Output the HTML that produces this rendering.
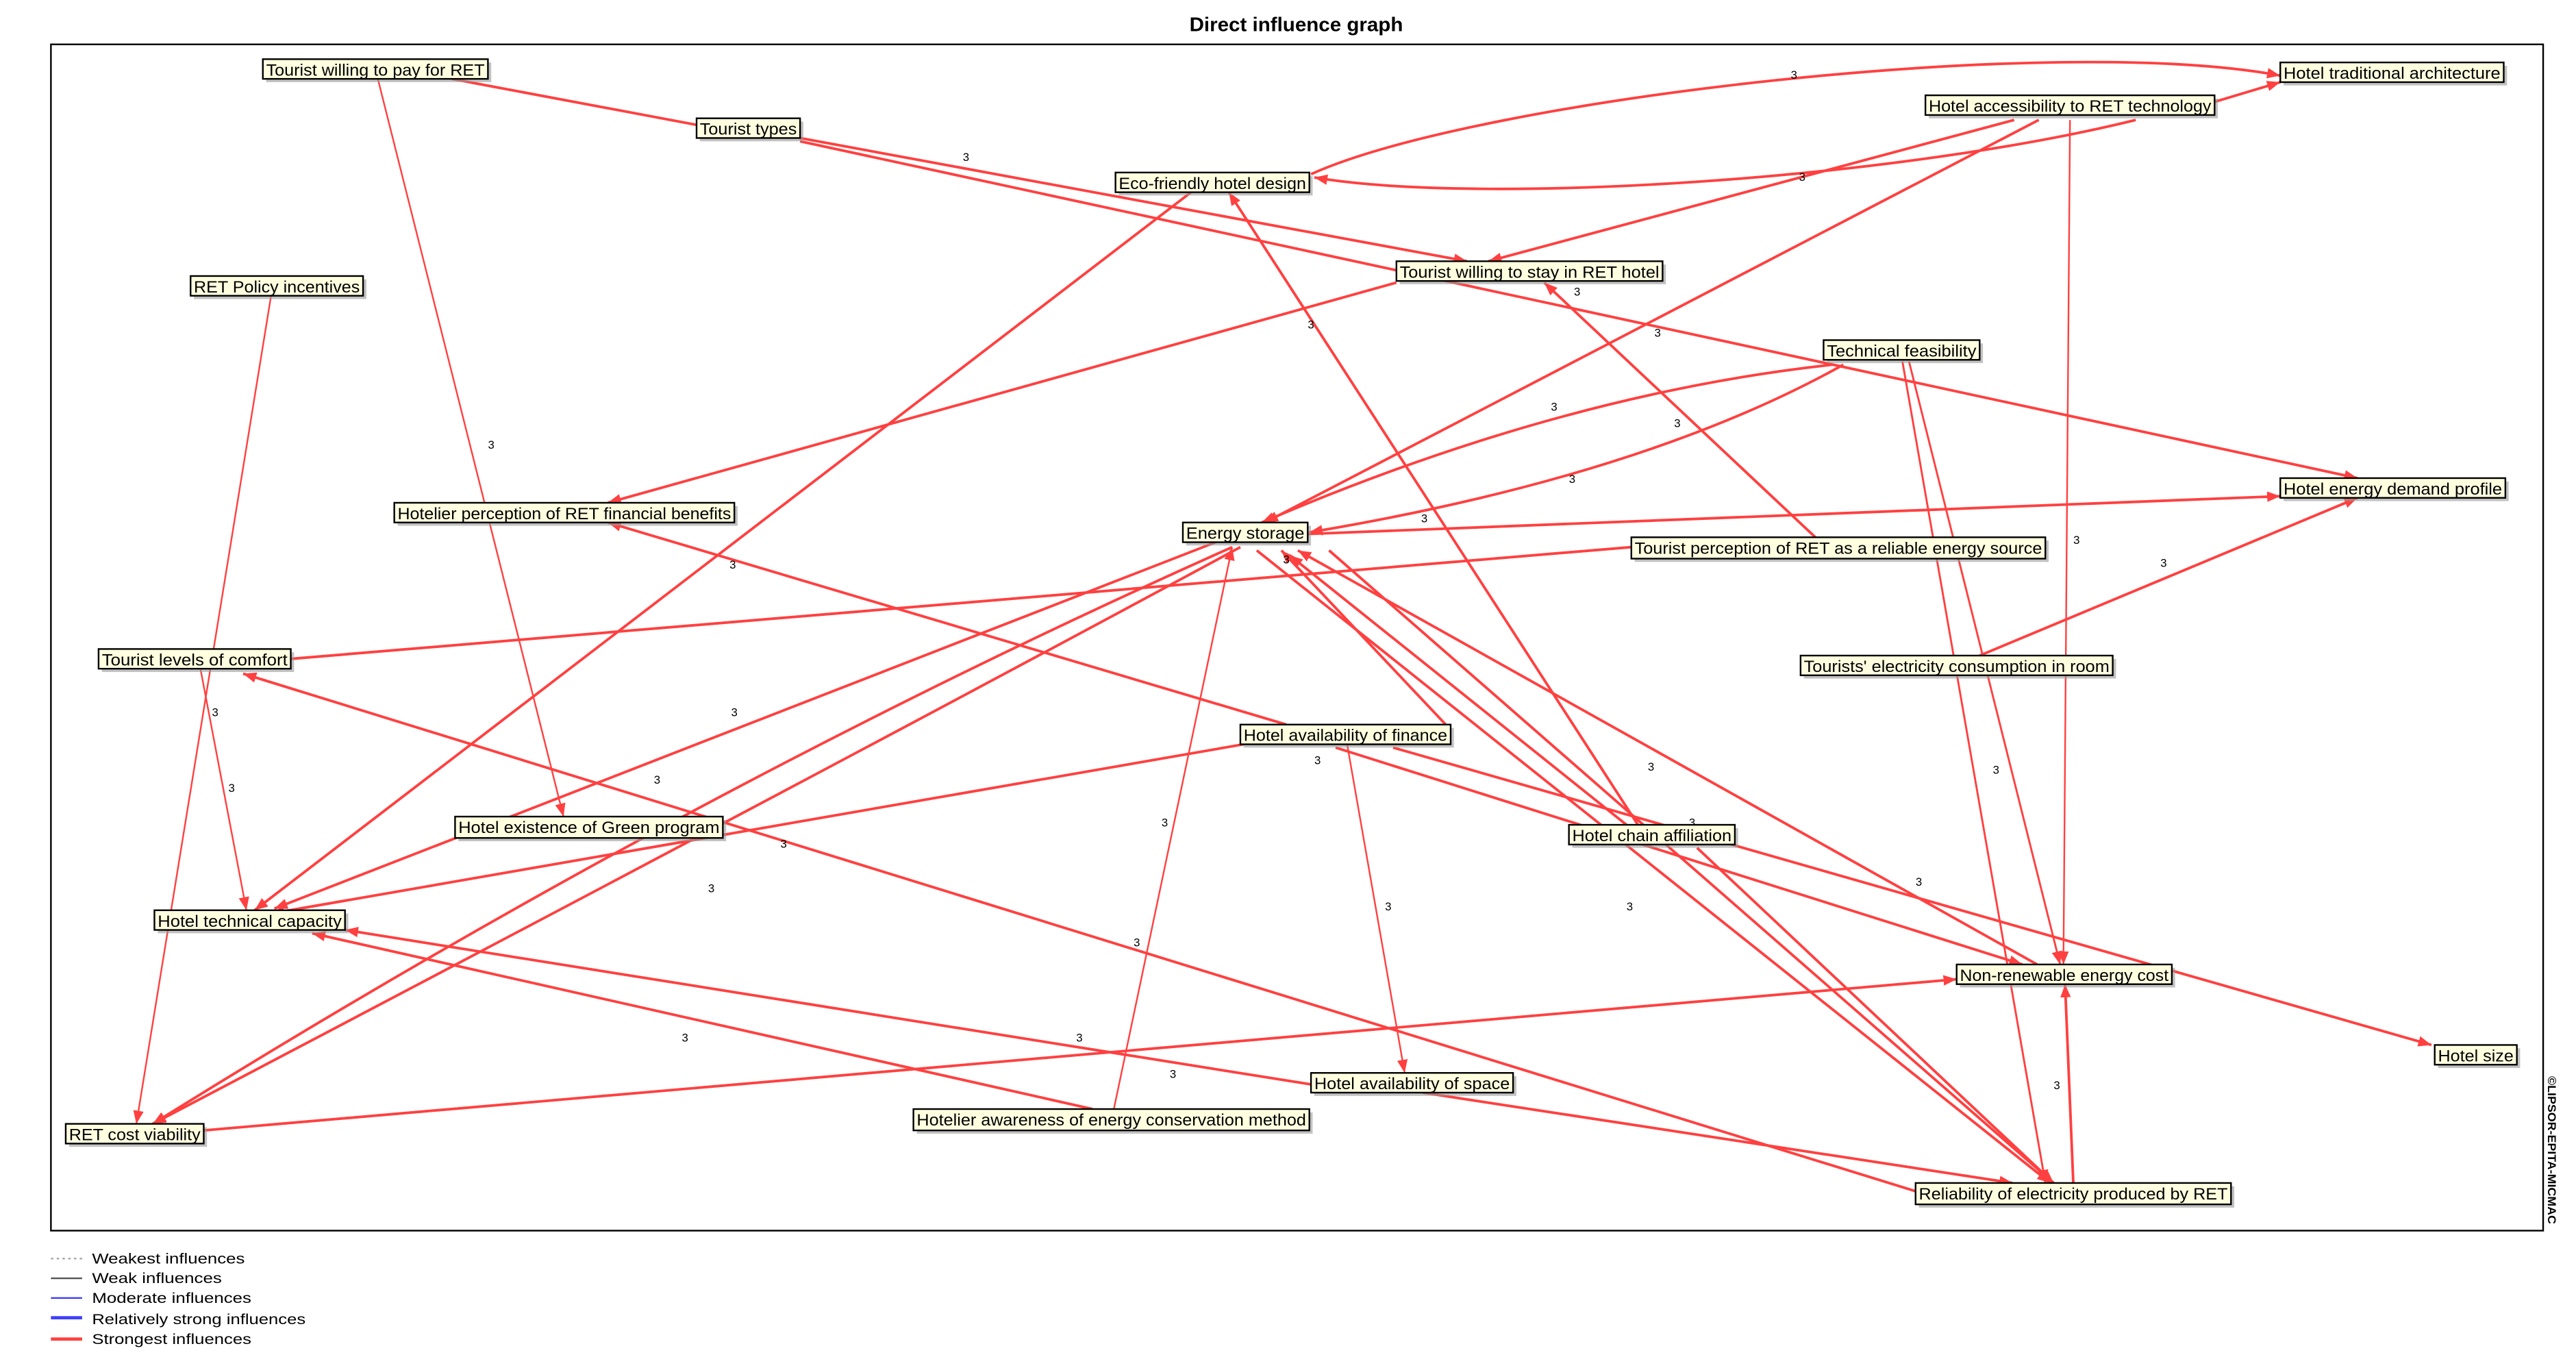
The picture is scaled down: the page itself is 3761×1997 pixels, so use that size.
<!DOCTYPE html>
<html><head><meta charset="utf-8"><style>
html,body{margin:0;padding:0;background:#fff;}
svg{display:block;}
text{font-family:"Liberation Sans Narrow","Liberation Sans",sans-serif;}
</style></head><body>
<svg width="3761" height="1997" viewBox="0 0 1568 832.6" preserveAspectRatio="none" xmlns="http://www.w3.org/2000/svg">
<defs>
<marker id="a" markerUnits="userSpaceOnUse" markerWidth="8" markerHeight="8" viewBox="0 0 10 10" refX="10" refY="5" orient="auto">
<path d="M0,1 L10,5 L0,9 Z" fill="#ff4040"/></marker>
</defs>
<rect width="1568" height="833" fill="#fff"/>
<text x="789" y="19" font-size="12" font-weight="bold" text-anchor="middle" textLength="130" lengthAdjust="spacingAndGlyphs">Direct influence graph</text>
<rect x="31" y="27" width="1517" height="722" fill="none" stroke="#000" stroke-width="1"/>

<g fill="none" stroke="#ff4040" stroke-width="1.6" marker-end="url(#a)">
<path d="M798,106 C900,60 1250,20 1388,46"/>
<path d="M1300,73 C1150,110 900,125 800,108"/>
<path d="M1348,62 L1388,50"/>
<path d="M275,48 L424,76" marker-end="none"/>
<path d="M487,84 L893,159"/>
<path d="M487,86 L1435,291"/>
<path d="M1226,73 L906,159"/>
<path d="M1241,73 L770,318"/>
<path d="M1260,73 L1256,587" stroke-width="1"/>
<path d="M725,117 L155,554"/>
<path d="M997,502 L748,117"/>
<path d="M850,172 L370,306"/>
<path d="M1105,327 L940,172"/>
<path d="M1115,222 Q950,240 768,318"/>
<path d="M1122,222 Q1000,290 797,324"/>
<path d="M1162,220 L1254,587" stroke-width="1.2"/>
<path d="M1158,220 L1245,720" stroke-width="1.2"/>
<path d="M1262,720 L1257,599"/>
<path d="M1205,399 L1435,303"/>
<path d="M796,325 L1388,302"/>
<path d="M177,401 L993,333" marker-end="none"/>
<path d="M230,48 L343,497" stroke-width="1"/>
<path d="M165,180 L83,684" stroke-width="1"/>
<path d="M122,407 L150,554" stroke-width="1"/>
<path d="M1166,725 L148,410"/>
<path d="M783,441 L370,318"/>
<path d="M757,453 L165,556"/>
<path d="M820,453 L855,653" stroke-width="1"/>
<path d="M813,455 L1231,587"/>
<path d="M848,455 L1480,636"/>
<path d="M740,330 L167,553"/>
<path d="M750,333 Q420,480 93,684"/>
<path d="M755,333 Q520,460 93,684"/>
<path d="M678,675 L750,333" stroke-width="1"/>
<path d="M880,441 L780,335"/>
<path d="M990,502 L785,338"/>
<path d="M1240,587 L790,335"/>
<path d="M765,335 L1248,720"/>
<path d="M809,335 L1250,720"/>
<path d="M1033,516 L1250,720"/>
<path d="M866,665 L1225,720"/>
<path d="M798,660 L210,566"/>
<path d="M665,675 L190,568"/>
<path d="M124,688 L1191,596"/>
</g>

<g font-size="7" text-anchor="middle">
<text x="1092" y="48">3</text><text x="1097" y="110">3</text><text x="588" y="98">3</text>
<text x="299" y="273">3</text><text x="960" y="180">3</text><text x="798" y="200">3</text>
<text x="1009" y="205">3</text><text x="946" y="250">3</text><text x="1021" y="260">3</text>
<text x="957" y="294">3</text><text x="867" y="318">3</text><text x="1264" y="331">3</text>
<text x="1317" y="345">3</text><text x="446" y="346">3</text><text x="783" y="343">3</text>
<text x="131" y="436">3</text><text x="141" y="482">3</text><text x="447" y="436">3</text>
<text x="400" y="477">3</text><text x="802" y="465">3</text><text x="1005" y="469">3</text>
<text x="1215" y="471">3</text><text x="477" y="516">3</text><text x="1030" y="503">3</text>
<text x="709" y="503">3</text><text x="433" y="543">3</text><text x="845" y="554">3</text>
<text x="992" y="554">3</text><text x="1168" y="539">3</text><text x="692" y="576">3</text>
<text x="417" y="634">3</text><text x="657" y="634">3</text><text x="714" y="656">3</text>
<text x="1252" y="663">3</text>
</g>

<g font-size="10" stroke-width="1">
<g><rect x="162" y="38" width="137" height="12" fill="#999" opacity=".6"/><rect x="160" y="36" width="137" height="12" fill="#ffffe0" stroke="#000"/><text x="162" y="46" textLength="133" lengthAdjust="spacingAndGlyphs">Tourist willing to pay for RET</text></g>
<g><rect x="426" y="74" width="63" height="12" fill="#999" opacity=".6"/><rect x="424" y="72" width="63" height="12" fill="#ffffe0" stroke="#000"/><text x="426" y="82" textLength="59" lengthAdjust="spacingAndGlyphs">Tourist types</text></g>
<g><rect x="681" y="107" width="118" height="12" fill="#999" opacity=".6"/><rect x="679" y="105" width="118" height="12" fill="#ffffe0" stroke="#000"/><text x="681" y="115" textLength="114" lengthAdjust="spacingAndGlyphs">Eco-friendly hotel design</text></g>
<g><rect x="1390" y="40" width="136" height="12" fill="#999" opacity=".6"/><rect x="1388" y="38" width="136" height="12" fill="#ffffe0" stroke="#000"/><text x="1390" y="48" textLength="132" lengthAdjust="spacingAndGlyphs">Hotel traditional architecture</text></g>
<g><rect x="1174" y="60" width="176" height="12" fill="#999" opacity=".6"/><rect x="1172" y="58" width="176" height="12" fill="#ffffe0" stroke="#000"/><text x="1174" y="68" textLength="172" lengthAdjust="spacingAndGlyphs">Hotel accessibility to RET technology</text></g>
<g><rect x="852" y="161" width="162" height="12" fill="#999" opacity=".6"/><rect x="850" y="159" width="162" height="12" fill="#ffffe0" stroke="#000"/><text x="852" y="169" textLength="158" lengthAdjust="spacingAndGlyphs">Tourist willing to stay in RET hotel</text></g>
<g><rect x="118" y="170" width="105" height="12" fill="#999" opacity=".6"/><rect x="116" y="168" width="105" height="12" fill="#ffffe0" stroke="#000"/><text x="118" y="178" textLength="101" lengthAdjust="spacingAndGlyphs">RET Policy incentives</text></g>
<g><rect x="1112" y="209" width="95" height="12" fill="#999" opacity=".6"/><rect x="1110" y="207" width="95" height="12" fill="#ffffe0" stroke="#000"/><text x="1112" y="217" textLength="91" lengthAdjust="spacingAndGlyphs">Technical feasibility</text></g>
<g><rect x="242" y="308" width="207" height="12" fill="#999" opacity=".6"/><rect x="240" y="306" width="207" height="12" fill="#ffffe0" stroke="#000"/><text x="242" y="316" textLength="203" lengthAdjust="spacingAndGlyphs">Hotelier perception of RET financial benefits</text></g>
<g><rect x="722" y="320" width="76" height="12" fill="#999" opacity=".6"/><rect x="720" y="318" width="76" height="12" fill="#ffffe0" stroke="#000"/><text x="722" y="328" textLength="72" lengthAdjust="spacingAndGlyphs">Energy storage</text></g>
<g><rect x="1390" y="293" width="137" height="12" fill="#999" opacity=".6"/><rect x="1388" y="291" width="137" height="12" fill="#ffffe0" stroke="#000"/><text x="1390" y="301" textLength="133" lengthAdjust="spacingAndGlyphs">Hotel energy demand profile</text></g>
<g><rect x="995" y="329" width="252" height="13" fill="#999" opacity=".6"/><rect x="993" y="327" width="252" height="13" fill="#ffffe0" stroke="#000"/><text x="995" y="337" textLength="248" lengthAdjust="spacingAndGlyphs">Tourist perception of RET as a reliable energy source</text></g>
<g><rect x="62" y="397" width="117" height="12" fill="#999" opacity=".6"/><rect x="60" y="395" width="117" height="12" fill="#ffffe0" stroke="#000"/><text x="62" y="405" textLength="113" lengthAdjust="spacingAndGlyphs">Tourist levels of comfort</text></g>
<g><rect x="1098" y="401" width="190" height="12" fill="#999" opacity=".6"/><rect x="1096" y="399" width="190" height="12" fill="#ffffe0" stroke="#000"/><text x="1098" y="409" textLength="186" lengthAdjust="spacingAndGlyphs">Tourists' electricity consumption in room</text></g>
<g><rect x="757" y="443" width="128" height="12" fill="#999" opacity=".6"/><rect x="755" y="441" width="128" height="12" fill="#ffffe0" stroke="#000"/><text x="757" y="451" textLength="124" lengthAdjust="spacingAndGlyphs">Hotel availability of finance</text></g>
<g><rect x="279" y="499" width="163" height="13" fill="#999" opacity=".6"/><rect x="277" y="497" width="163" height="13" fill="#ffffe0" stroke="#000"/><text x="279" y="507" textLength="159" lengthAdjust="spacingAndGlyphs">Hotel existence of Green program</text></g>
<g><rect x="957" y="504" width="101" height="12" fill="#999" opacity=".6"/><rect x="955" y="502" width="101" height="12" fill="#ffffe0" stroke="#000"/><text x="957" y="512" textLength="97" lengthAdjust="spacingAndGlyphs">Hotel chain affiliation</text></g>
<g><rect x="96" y="556" width="116" height="12" fill="#999" opacity=".6"/><rect x="94" y="554" width="116" height="12" fill="#ffffe0" stroke="#000"/><text x="96" y="564" textLength="112" lengthAdjust="spacingAndGlyphs">Hotel technical capacity</text></g>
<g><rect x="1193" y="589" width="131" height="12" fill="#999" opacity=".6"/><rect x="1191" y="587" width="131" height="12" fill="#ffffe0" stroke="#000"/><text x="1193" y="597" textLength="127" lengthAdjust="spacingAndGlyphs">Non-renewable energy cost</text></g>
<g><rect x="1484" y="638" width="50" height="12" fill="#999" opacity=".6"/><rect x="1482" y="636" width="50" height="12" fill="#ffffe0" stroke="#000"/><text x="1484" y="646" textLength="46" lengthAdjust="spacingAndGlyphs">Hotel size</text></g>
<g><rect x="800" y="655" width="123" height="12" fill="#999" opacity=".6"/><rect x="798" y="653" width="123" height="12" fill="#ffffe0" stroke="#000"/><text x="800" y="663" textLength="119" lengthAdjust="spacingAndGlyphs">Hotel availability of space</text></g>
<g><rect x="558" y="677" width="241" height="13" fill="#999" opacity=".6"/><rect x="556" y="675" width="241" height="13" fill="#ffffe0" stroke="#000"/><text x="558" y="685" textLength="237" lengthAdjust="spacingAndGlyphs">Hotelier awareness of energy conservation method</text></g>
<g><rect x="42" y="686" width="84" height="12" fill="#999" opacity=".6"/><rect x="40" y="684" width="84" height="12" fill="#ffffe0" stroke="#000"/><text x="42" y="694" textLength="80" lengthAdjust="spacingAndGlyphs">RET cost viability</text></g>
<g><rect x="1168" y="722" width="192" height="13" fill="#999" opacity=".6"/><rect x="1166" y="720" width="192" height="13" fill="#ffffe0" stroke="#000"/><text x="1168" y="730" textLength="188" lengthAdjust="spacingAndGlyphs">Reliability of electricity produced by RET</text></g>
</g>

<text transform="translate(1551,655) rotate(90)" font-size="7" font-weight="bold" textLength="90" lengthAdjust="spacingAndGlyphs">©LIPSOR-EPITA-MICMAC</text>

<g font-size="9">
<line x1="31" y1="766" x2="50" y2="766" stroke="#aaa" stroke-dasharray="1.5,2"/>
<line x1="31" y1="778" x2="50" y2="778" stroke="#555" stroke-width="1"/>
<line x1="31" y1="790" x2="50" y2="790" stroke="#4040ff" stroke-width="1"/>
<line x1="31" y1="802" x2="50" y2="802" stroke="#4040ff" stroke-width="2"/>
<line x1="31" y1="815" x2="50" y2="815" stroke="#ff4040" stroke-width="2"/>
<text x="56" y="769" textLength="93" lengthAdjust="spacingAndGlyphs">Weakest influences</text>
<text x="56" y="781" textLength="79" lengthAdjust="spacingAndGlyphs">Weak influences</text>
<text x="56" y="793" textLength="97" lengthAdjust="spacingAndGlyphs">Moderate influences</text>
<text x="56" y="806" textLength="130" lengthAdjust="spacingAndGlyphs">Relatively strong influences</text>
<text x="56" y="818" textLength="97" lengthAdjust="spacingAndGlyphs">Strongest influences</text>
</g>
</svg>
</body></html>
